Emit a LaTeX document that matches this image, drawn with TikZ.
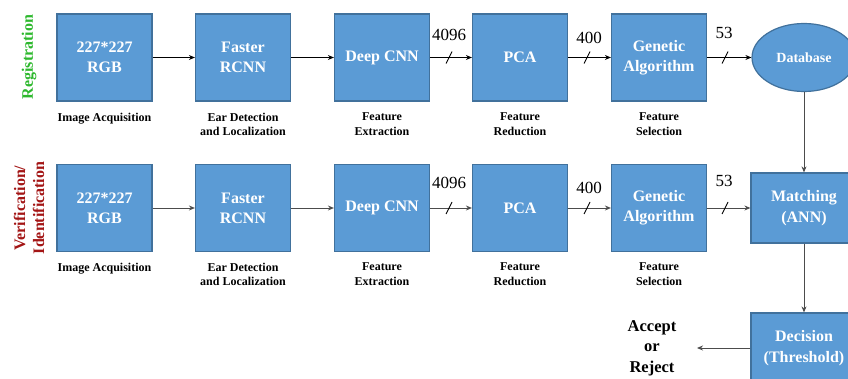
\documentclass[tikz,border=0pt]{standalone}
\usepackage{fontspec}
\setmainfont{Liberation Serif}
\usetikzlibrary{arrows.meta,shapes.geometric}
\definecolor{boxfill}{HTML}{5B9BD5}
\definecolor{boxline}{HTML}{41719C}
\definecolor{reggreen}{HTML}{2DB82D}
\definecolor{verred}{HTML}{A31515}
\tikzset{
  blk/.style={draw=boxline,line width=1.2pt,fill=boxfill,minimum width=95pt,minimum height=87pt,inner sep=0pt,
    text=white,align=center,font=\bfseries\fontsize{16}{20}\selectfont},
  dbnode/.style={ellipse,draw=boxline,line width=1.2pt,fill=boxfill,minimum width=104pt,minimum height=68pt,inner sep=0pt,
    text=white,align=center,font=\bfseries\fontsize{14}{18}\selectfont},
  sidebox/.style={draw=boxline,line width=1.2pt,fill=boxfill,minimum width=106pt,minimum height=70pt,inner sep=0pt,
    text=white,align=center,font=\bfseries\fontsize{16}{21}\selectfont},
  capt/.style={anchor=north,inner sep=0pt,align=center,font=\bfseries\fontsize{12}{14.5}\selectfont},
  num/.style={inner sep=0pt,font=\fontsize{17}{20}\selectfont},
  arr/.style={-{Stealth[length=6pt,width=5pt]},line width=0.9pt},
  arrg/.style={arr,draw=black!70},
  slash/.style={line width=0.9pt}
}
\begin{document}
\begin{tikzpicture}[x=1pt,y=-1pt]
\useasboundingbox (0,0) rectangle (848,379);
\clip (0,0) rectangle (848,379);
% side labels
\node[rotate=90,text=reggreen,font=\bfseries\fontsize{16}{18}\selectfont,inner sep=0pt] (reg) at (29,57) {Registration};
\node[rotate=90,text=verred,font=\bfseries\fontsize{16}{19}\selectfont,align=center,inner sep=0pt] (ver) at (29,208) {Verification/\\Identification};
% row 1
\node[blk] (a1) at (104.5,57.5) {227*227\\RGB};
\node[blk] (b1) at (243,57.5) {Faster\\RCNN};
\node[blk] (c1) at (382,57.5) {Deep CNN};
\node[blk] (d1) at (520,57.5) {PCA};
\node[blk] (e1) at (659,57.5) {Genetic\\Algorithm};
\node[dbnode] (db) at (804,57.5) {Database};
% row 2
\node[blk] (a2) at (104.5,208) {227*227\\RGB};
\node[blk] (b2) at (243,208) {Faster\\RCNN};
\node[blk] (c2) at (382,208) {Deep CNN};
\node[blk] (d2) at (520,208) {PCA};
\node[blk] (e2) at (659,208) {Genetic\\Algorithm};
\node[sidebox] (mt) at (804,208) {Matching\\(ANN)};
\node[sidebox] (dc) at (804,348) {Decision\\(Threshold)};
\node[inner sep=0pt,align=center,font=\bfseries\fontsize{16.5}{20.5}\selectfont] (ar) at (652,348) {Accept\\or\\Reject};
\coordinate (arend) at (697,348);
% captions
\foreach \r/\y in {1/112.5,2/262.5}{
  \node[capt] (ca\r) at (104.5,\y) {Image Acquisition};
  \node[capt] (cb\r) at (243,\y) {Ear Detection\\and Localization};
  \node[capt] (cc\r) at (382,\y) {Feature\\Extraction};
  \node[capt] (cd\r) at (520,\y) {Feature\\Reduction};
  \node[capt] (ce\r) at (659,\y) {Feature\\Selection};
}
% numbers
\node[num] (n11) at (449,35) {4096};
\node[num] (n12) at (589,38) {400};
\node[num] (n13) at (724,33) {53};
\node[num] (n21) at (449,183) {4096};
\node[num] (n22) at (589,188) {400};
\node[num] (n23) at (724,181) {53};
% arrows row 1
\draw[arr] (a1) -- (b1);
\draw[arr] (b1) -- (c1);
\draw[arr] (c1) -- (d1);
\draw[arr] (d1) -- (e1);
\draw[arr] (e1) -- (db);
% arrows row 2
\draw[arrg] (a2) -- (b2);
\draw[arrg] (b2) -- (c2);
\draw[arrg] (c2) -- (d2);
\draw[arrg] (d2) -- (e2);
\draw[arrg] (e2) -- (mt);
% vertical
\draw[arrg] (db) -- (mt);
\draw[arrg] (mt) -- (dc);
\draw[arrg] (dc.west) -- (arend);
% slashes
\foreach \x/\y in {449/57.5,587/57.5,725/57.5,449/208,587/208,725/208}{
  \draw[slash] (\x-3,\y+6) -- (\x+3,\y-6);
}
\end{tikzpicture}
\end{document}
